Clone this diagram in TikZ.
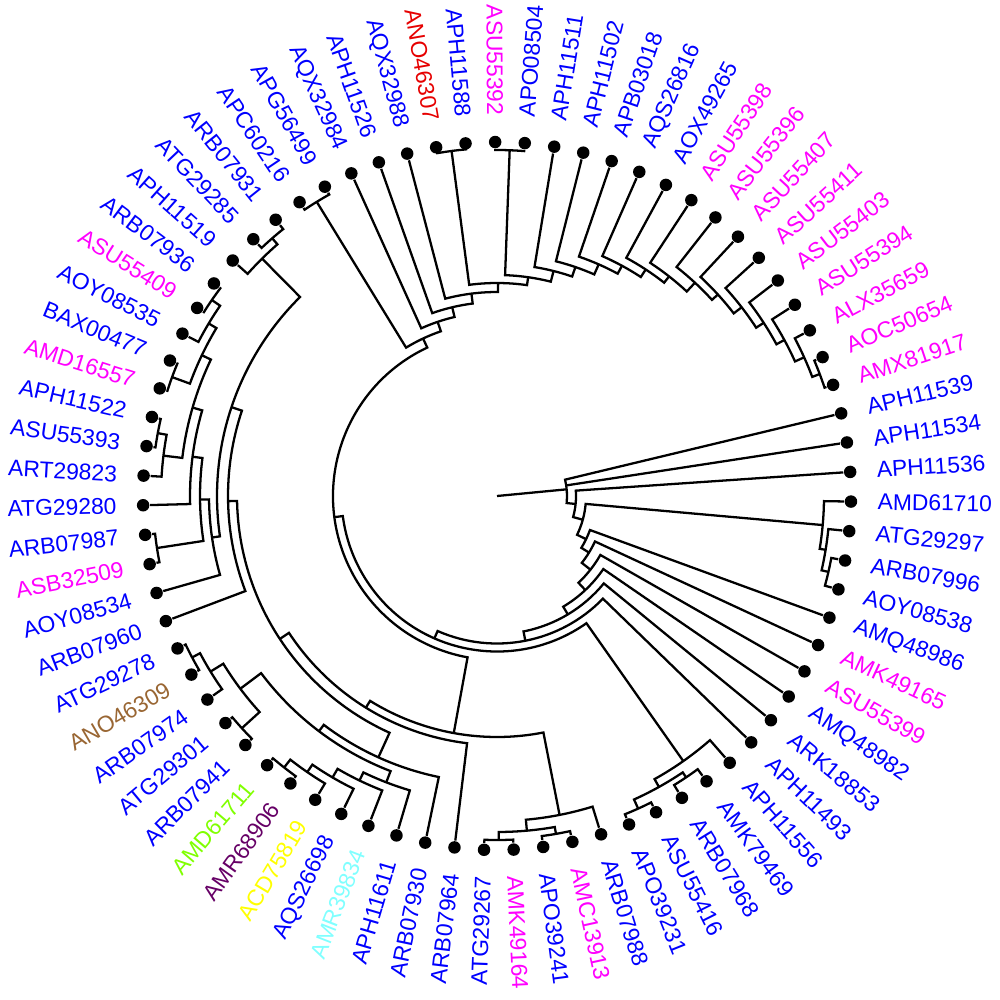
\documentclass[tikz,border=0pt]{standalone}
\usepackage{fontspec}
\setmainfont{Liberation Sans}

\definecolor{tipblue}{RGB}{0,0,255}
\definecolor{tipmag}{RGB}{255,0,255}
\definecolor{tipred}{RGB}{230,0,0}
\definecolor{tipbrown}{RGB}{153,102,51}
\definecolor{tiplime}{RGB}{128,255,0}
\definecolor{tipplum}{RGB}{102,0,102}
\definecolor{tipyellow}{RGB}{255,255,0}
\definecolor{tipcyan}{RGB}{128,255,255}

% tip: label, slot, colour
\newcommand\leaf[3]{%
  \pgfmathsetmacro\tipang{3.9+4.8*#2}%
  \expandafter\let\csname ang#1\endcsname\tipang
  \node[tipdot] (#1) at (\tipang:3.54) {};
  \pgfmathtruncatemacro\onleft{and(\tipang>90,\tipang<270)}%
  \ifnum\onleft=1
    \node[tiplabel,text=#3,anchor=east,rotate=\tipang-180] (#1-t) at (\tipang:3.80) {#1};
  \else
    \node[tiplabel,text=#3,anchor=west,rotate=\tipang] (#1-t) at (\tipang:3.80) {#1};
  \fi}

% inner node: name, radius, first child, last child
\newcommand\clade[4]{%
  \edef\angfirst{\csname ang#3\endcsname}%
  \edef\anglast{\csname ang#4\endcsname}%
  \pgfmathsetmacro\angmid{(\angfirst+\anglast)/2}%
  \expandafter\let\csname ang#1\endcsname\angmid
  \coordinate (#1) at (\angmid:#2);
  \draw[branch] (#3) -- (\angfirst:#2) arc[start angle=\angfirst, end angle=\anglast, radius=#2] -- (#4);}

% inner node with three children
\newcommand\cladethree[5]{%
  \edef\angfirst{\csname ang#3\endcsname}%
  \edef\angsecond{\csname ang#4\endcsname}%
  \edef\anglast{\csname ang#5\endcsname}%
  \pgfmathsetmacro\angmid{(\angfirst+\angsecond+\anglast)/3}%
  \expandafter\let\csname ang#1\endcsname\angmid
  \coordinate (#1) at (\angmid:#2);
  \draw[branch] (#3) -- (\angfirst:#2) arc[start angle=\angfirst, end angle=\anglast, radius=#2] -- (#5);
  \draw[branch] (#4) -- (\angsecond:#2);}

\begin{document}
\begin{tikzpicture}[
  branch/.style={line width=0.65pt},
  tipdot/.style={circle,fill=black,inner sep=0pt,minimum size=0.125cm},
  tiplabel/.style={font=\fontsize{6.5}{7}\selectfont,inner sep=0pt}]
\useasboundingbox (-4.97,-5.03) rectangle (5.03,4.96);

% tips, counter-clockwise
\leaf{APH11536}{75}{tipblue}
\leaf{APH11534}{76}{tipblue}
\leaf{APH11539}{77}{tipblue}
\leaf{AMX81917}{3}{tipmag}
\leaf{AOC50654}{4}{tipmag}
\leaf{ALX35659}{5}{tipmag}
\leaf{ASU55394}{6}{tipmag}
\leaf{ASU55403}{7}{tipmag}
\leaf{ASU55411}{8}{tipmag}
\leaf{ASU55407}{9}{tipmag}
\leaf{ASU55396}{10}{tipmag}
\leaf{ASU55398}{11}{tipmag}
\leaf{AOX49265}{12}{tipblue}
\leaf{AQS26816}{13}{tipblue}
\leaf{APB03018}{14}{tipblue}
\leaf{APH11502}{15}{tipblue}
\leaf{APH11511}{16}{tipblue}
\leaf{APO08504}{17}{tipblue}
\leaf{ASU55392}{18}{tipmag}
\leaf{APH11588}{19}{tipblue}
\leaf{ANO46307}{20}{tipred}
\leaf{AQX32988}{21}{tipblue}
\leaf{APH11526}{22}{tipblue}
\leaf{AQX32984}{23}{tipblue}
\leaf{APG56499}{24}{tipblue}
\leaf{APC60216}{25}{tipblue}
\leaf{ARB07931}{26}{tipblue}
\leaf{ATG29285}{27}{tipblue}
\leaf{APH11519}{28}{tipblue}
\leaf{ARB07936}{29}{tipblue}
\leaf{ASU55409}{30}{tipmag}
\leaf{AOY08535}{31}{tipblue}
\leaf{BAX00477}{32}{tipblue}
\leaf{AMD16557}{33}{tipmag}
\leaf{APH11522}{34}{tipblue}
\leaf{ASU55393}{35}{tipblue}
\leaf{ART29823}{36}{tipblue}
\leaf{ATG29280}{37}{tipblue}
\leaf{ARB07987}{38}{tipblue}
\leaf{ASB32509}{39}{tipmag}
\leaf{AOY08534}{40}{tipblue}
\leaf{ARB07960}{41}{tipblue}
\leaf{ATG29278}{42}{tipblue}
\leaf{ANO46309}{43}{tipbrown}
\leaf{ARB07974}{44}{tipblue}
\leaf{ATG29301}{45}{tipblue}
\leaf{ARB07941}{46}{tipblue}
\leaf{AMD61711}{47}{tiplime}
\leaf{AMR68906}{48}{tipplum}
\leaf{ACD75819}{49}{tipyellow}
\leaf{AQS26698}{50}{tipblue}
\leaf{AMR39834}{51}{tipcyan}
\leaf{APH11611}{52}{tipblue}
\leaf{ARB07930}{53}{tipblue}
\leaf{ARB07964}{54}{tipblue}
\leaf{ATG29267}{55}{tipblue}
\leaf{AMK49164}{56}{tipmag}
\leaf{APO39241}{57}{tipblue}
\leaf{AMC13913}{58}{tipmag}
\leaf{ARB07988}{59}{tipblue}
\leaf{APO39231}{60}{tipblue}
\leaf{ASU55416}{61}{tipblue}
\leaf{ARB07968}{62}{tipblue}
\leaf{AMK79469}{63}{tipblue}
\leaf{APH11556}{64}{tipblue}
\leaf{APH11493}{65}{tipblue}
\leaf{ARK18853}{66}{tipblue}
\leaf{AMQ48982}{67}{tipblue}
\leaf{ASU55399}{68}{tipmag}
\leaf{AMK49165}{69}{tipmag}
\leaf{AMQ48986}{70}{tipblue}
\leaf{AOY08538}{71}{tipblue}
\leaf{ARB07996}{72}{tipblue}
\leaf{ATG29297}{73}{tipblue}
\leaf{AMD61710}{74}{tipblue}

% right clade
\clade{dc}{3.40}{AOY08538}{ARB07996}
\clade{db}{3.33}{dc}{ATG29297}
\clade{da}{3.27}{db}{AMD61710}

% lower right clade
\clade{xd}{3.39}{ARB07968}{AMK79469}
\clade{xe}{3.43}{APO39231}{ASU55416}
\clade{xb}{3.33}{xe}{xd}
\clade{xa}{3.24}{xb}{APH11556}

% bottom clade
\clade{yc}{3.44}{ATG29267}{AMK49164}
\clade{yd}{3.43}{APO39241}{AMC13913}
\clade{yb}{3.36}{yc}{yd}
\clade{ya}{3.25}{yb}{ARB07988}

% lower left clade
\clade{va1}{3.45}{ATG29278}{ANO46309}
\clade{va}{3.36}{va1}{ARB07974}
\clade{vb}{3.45}{ATG29301}{ARB07941}
\clade{vf}{3.21}{va}{vb}
\clade{vg1}{3.45}{AMD61711}{AMR68906}
\clade{vg2}{3.35}{vg1}{ACD75819}
\clade{vg3}{3.26}{vg2}{AQS26698}
\clade{vg4}{3.16}{vg3}{AMR39834}
\clade{vg}{3.07}{vg4}{APH11611}
\clade{vd}{2.95}{vf}{vg}
\clade{vc}{2.87}{vd}{ARB07930}

% left clade
\clade{la}{3.42}{ARB07931}{ATG29285}
\clade{lb}{3.34}{la}{APH11519}
\clade{c1}{3.46}{ARB07936}{ASU55409}
\clade{c2}{3.36}{c1}{AOY08535}
\clade{c4}{3.46}{BAX00477}{AMD16557}
\clade{c8}{3.27}{c2}{c4}
\clade{c5}{3.45}{APH11522}{ASU55393}
\clade{c6}{3.36}{c5}{ART29823}
\clade{c7}{3.17}{c8}{c6}
\clade{m4}{3.07}{c7}{ATG29280}
\clade{c10}{3.44}{ARB07987}{ASB32509}
\clade{m3}{2.97}{m4}{c10}
\clade{m2}{2.88}{m3}{AOY08534}
\clade{l}{2.80}{lb}{m2}
\clade{m1}{2.69}{l}{ARB07960}
\clade{wp}{2.60}{m1}{vc}
\clade{w}{2.49}{wp}{ARB07964}
\clade{z}{2.41}{w}{ya}

% top clade
\clade{tc}{3.45}{AMX81917}{AOC50654}
\clade{t12}{3.37}{tc}{ALX35659}
\clade{t11}{3.27}{t12}{ASU55394}
\clade{t10}{3.18}{t11}{ASU55403}
\clade{t9}{3.09}{t10}{ASU55411}
\clade{t8}{2.99}{t9}{ASU55407}
\clade{t7}{2.91}{t8}{ASU55396}
\clade{t6}{2.79}{t7}{ASU55398}
\clade{t5}{2.71}{t6}{AOX49265}
\clade{t4}{2.62}{t5}{AQS26816}
\clade{t3}{2.53}{t4}{APB03018}
\clade{t2}{2.42}{t3}{APH11502}
\clade{t1}{2.32}{t2}{APH11511}
\clade{ch1}{3.46}{APO08504}{ASU55392}
\clade{q}{2.21}{t1}{ch1}
\clade{ch2}{3.48}{APH11588}{ANO46307}
\clade{p}{2.13}{q}{ch2}
\clade{o}{2.04}{p}{AQX32988}
\clade{nn}{1.94}{o}{APH11526}
\clade{kr}{1.84}{nn}{AQX32984}
\clade{kt}{3.45}{APG56499}{APC60216}
\clade{ku}{1.74}{kr}{kt}

% backbone
\clade{k}{1.64}{ku}{z}
\clade{j}{1.555}{xa}{k}
\clade{i}{1.475}{APH11493}{j}
\clade{h}{1.38}{ARK18853}{i}
\clade{g}{1.29}{AMQ48982}{h}
\clade{f}{1.19}{ASU55399}{g}
\clade{e}{1.08}{AMK49165}{f}
\clade{d}{0.99}{AMQ48986}{e}
\clade{c}{0.89}{da}{d}
\clade{b}{0.79}{APH11536}{c}
\cladethree{a}{0.70}{APH11539}{APH11534}{b}

\coordinate (root) at (0,0);
\draw[branch] (root) -- (a);
\end{tikzpicture}
\end{document}
